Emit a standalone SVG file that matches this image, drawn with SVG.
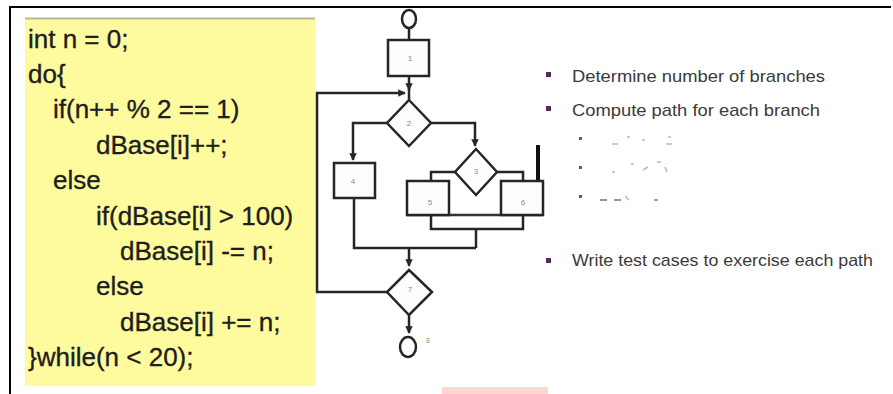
<svg xmlns="http://www.w3.org/2000/svg" width="893" height="394" viewBox="0 0 893 394">
<style>
.code{font-family:"Liberation Sans",Arial,sans-serif;font-size:26px;fill:#1e1e1e;stroke:#1e1e1e;stroke-width:0.35}
.node{fill:#fdfdfd;stroke:#262626;stroke-width:2.5}
.lbl{font-family:"Liberation Sans",Arial,sans-serif;font-size:8px;fill:#8a8a8a;text-anchor:middle}
.edge{fill:none;stroke:#262626;stroke-width:2.5}
.bt{font-family:"Liberation Sans",Arial,sans-serif;font-size:17px;fill:#3a3a3a}
.bul{fill:#5a2a5e}
.sub{fill:#5a5a90}
.faint{stroke:#b8b8b8;stroke-width:1.5}
</style>
<defs>
<marker id="ah" viewBox="0 0 10 10" refX="9" refY="5" markerWidth="3" markerHeight="3" orient="auto" markerUnits="strokeWidth">
<path d="M0,0 L10,5 L0,10 z" fill="#262626"/>
</marker>
</defs>
<rect width="893" height="394" fill="#ffffff"/>
<!-- frame -->
<line x1="10" y1="7" x2="891" y2="7" stroke="#000" stroke-width="2"/>
<line x1="10" y1="6" x2="10" y2="394" stroke="#000" stroke-width="2"/>
<!-- code panel -->
<g id="code">
<rect x="25" y="18" width="290" height="368" fill="#fdfb9e"/>
<line x1="25" y1="18.5" x2="315" y2="18.5" stroke="#b9b79a" stroke-width="2"/>
<text class="code" x="28" y="48">int n = 0;</text>
<text class="code" x="28" y="83">do{</text>
<text class="code" x="53" y="118">if(n++ % 2 == 1)</text>
<text class="code" x="96" y="154">dBase[i]++;</text>
<text class="code" x="53" y="189">else</text>
<text class="code" x="96" y="225">if(dBase[i] &gt; 100)</text>
<text class="code" x="120" y="260">dBase[i] -= n;</text>
<text class="code" x="96" y="295">else</text>
<text class="code" x="120" y="331">dBase[i] += n;</text>
<text class="code" x="28" y="366">}while(n &lt; 20);</text>
</g>
<!-- connectors -->
<g id="connectors">
<line class="edge" x1="409" y1="28" x2="409" y2="40"/>
<path class="edge" d="M409,76 L409,90" marker-end="url(#ah)"/>
<line class="edge" x1="409" y1="88" x2="409" y2="100"/>
<path class="edge" d="M387,292 L317,292 L317,93 L405,93" marker-end="url(#ah)"/>
<path class="edge" d="M387,123 L353,123 L353,160" marker-end="url(#ah)"/>
<path class="edge" d="M431,123 L475,123 L475,146" marker-end="url(#ah)"/>
<path class="edge" d="M455,172 L431,172 L431,181"/>
<path class="edge" d="M497,172 L523,172 L523,181"/>
<path class="edge" d="M431,215 L431,229 L523,229 L523,215"/>
<path class="edge" d="M476,229 L476,248"/>
<path class="edge" d="M354,198 L354,248 L476,248"/>
<path class="edge" d="M409,248 L409,266" marker-end="url(#ah)"/>
<path class="edge" d="M409,315 L409,333" marker-end="url(#ah)"/>
<line x1="538" y1="145" x2="538" y2="181" stroke="#111" stroke-width="4"/>
</g>
<!-- nodes -->
<g id="start"><ellipse class="node" cx="409" cy="19" rx="7" ry="9" fill="#fff"/></g>
<g id="n1"><rect class="node" x="388" y="40" width="41" height="36"/><text class="lbl" x="410" y="61">1</text></g>
<g id="n2"><polygon class="node" points="409,100 431,123 409,146 387,123"/><text class="lbl" x="409" y="126">2</text></g>
<g id="n3"><polygon class="node" points="476,149 497,172 476,195 455,172"/><text class="lbl" x="476" y="174">3</text></g>
<g id="n4"><rect class="node" x="334" y="163" width="41" height="35"/><text class="lbl" x="353" y="184">4</text></g>
<g id="n56base"><line x1="407" y1="215" x2="543" y2="215" stroke="#333" stroke-width="2.5"/></g>
<g id="n5"><rect class="node" x="407" y="181" width="42" height="34" stroke="#333"/><text class="lbl" x="430" y="205">5</text></g>
<g id="n6"><rect class="node" x="501" y="181" width="42" height="34" stroke="#333"/><text class="lbl" x="523" y="205">6</text></g>
<g id="n7"><polygon class="node" points="409,270 432,292 409,315 387,292"/><text class="lbl" x="410" y="292">7</text></g>
<g id="end"><ellipse class="node" cx="408" cy="347" rx="8" ry="10" fill="#fff"/><text class="lbl" x="428" y="343" style="fill:#7aa87a;font-size:7px">8</text></g>
<!-- bullets -->
<g id="bullets">
<rect class="bul" x="546" y="72" width="5" height="5"/>
<text class="bt" x="572" y="82" textLength="253" lengthAdjust="spacingAndGlyphs">Determine number of branches</text>
<rect class="bul" x="546" y="106" width="5" height="5"/>
<text class="bt" x="572" y="116" textLength="248" lengthAdjust="spacingAndGlyphs">Compute path for each branch</text>
<rect class="sub" x="579" y="137" width="3" height="3"/>
<rect class="sub" x="579" y="166" width="3" height="3"/>
<rect class="sub" x="579" y="195" width="3" height="3"/>
<g class="faint">
<line x1="612" y1="144" x2="618" y2="144"/><line x1="627" y1="137" x2="630" y2="137"/><line x1="642" y1="140" x2="645" y2="140"/><line x1="668" y1="137" x2="671" y2="137"/><line x1="666" y1="144" x2="672" y2="144"/>
<line x1="612" y1="172" x2="615" y2="172"/><line x1="631" y1="164" x2="634" y2="164"/><line x1="643" y1="170" x2="648" y2="167"/><line x1="657" y1="162" x2="661" y2="162"/><line x1="665" y1="167" x2="667" y2="172"/>
<line x1="600" y1="200" x2="607" y2="200" stroke="#777"/><line x1="614" y1="200" x2="621" y2="200" stroke="#777"/><line x1="625" y1="196" x2="629" y2="200"/><line x1="654" y1="200" x2="658" y2="200" stroke="#888"/>
</g>
<rect class="bul" x="546" y="258" width="5" height="5"/>
<text class="bt" x="572" y="266" textLength="301" lengthAdjust="spacingAndGlyphs">Write test cases to exercise each path</text>
</g>
<rect x="442" y="387" width="106" height="7" fill="#fdd5d3"/>
</svg>
